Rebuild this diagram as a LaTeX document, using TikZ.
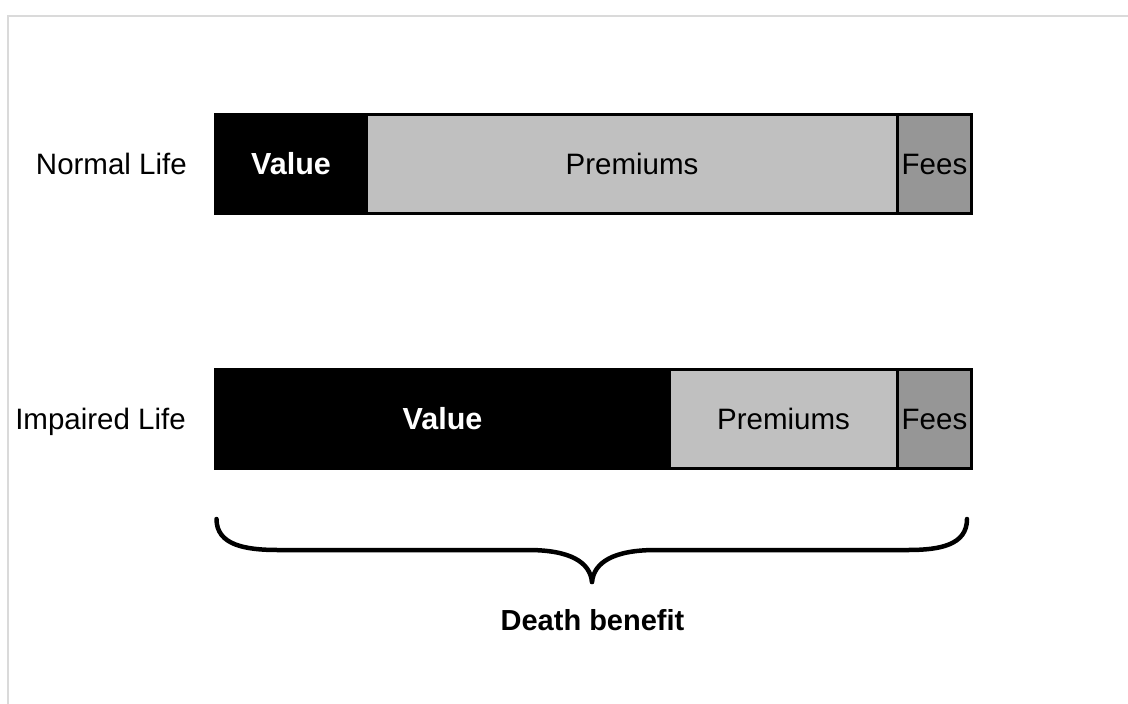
\documentclass[tikz,border=0pt]{standalone}
\usepackage{fontspec}
\setmainfont{Liberation Sans}
\definecolor{premgray}{HTML}{C0C0C0}
\definecolor{feegray}{HTML}{969696}
\definecolor{framegray}{HTML}{DADADA}
\begin{document}
\begin{tikzpicture}[x=1pt,y=-1pt,
  seg/.style={draw=black, line width=3pt, inner sep=0pt, minimum height=99pt,
    text height=21pt, text depth=0pt, font=\fontsize{29.5}{35}\selectfont},
  valueseg/.style={seg, fill=black, text=white, font=\fontsize{30.5}{36}\selectfont\bfseries},
  premseg/.style={seg, fill=premgray},
  feeseg/.style={seg, fill=feegray},
  rowlabel/.style={anchor=base east, inner sep=0pt, font=\fontsize{29.5}{35}\selectfont},
  brace/.style={line width=4.5pt, line cap=round, line join=round}]
\useasboundingbox (0,0) rectangle (1128,704);

% outer frame (top and left edges)
\draw[framegray, line width=2pt] (7.5,704) -- (7.5,15.5) -- (1128,15.5);

% normal life bar
\node[valueseg, minimum width=151pt] (nv) at (291,164) {Value};
\node[premseg, minimum width=531pt] (np) at (632,164) {Premiums};
\node[feeseg, minimum width=74pt] (nf) at (934.5,164) {Fees};
\node[rowlabel] (nl) at (187,174.5) {Normal Life};

% impaired life bar
\node[valueseg, minimum width=454pt] (iv) at (442.5,419) {Value};
\node[premseg, minimum width=228pt] (ip) at (783.5,419) {Premiums};
\node[feeseg, minimum width=74pt] (if) at (934.5,419) {Fees};
\node[rowlabel] (il) at (186,429.5) {Impaired Life};

% brace under the impaired bar
\coordinate (bl) at (216.5,519);
\coordinate (bt) at (592,582);
\coordinate (br) at (967,519);
\draw[brace] (bl) .. controls (216.5,545) and (245,550) .. (278,550)
  -- (528,550) .. controls (570,550) and (590,562) .. (bt);
\draw[brace] (bt) .. controls (594,562) and (614,550) .. (656,550)
  -- (908,550) .. controls (940,550) and (967,545) .. (br);

\node[anchor=base, inner sep=0pt, font=\fontsize{29}{35}\selectfont\bfseries] (db) at (592.5,630) {Death benefit};
\end{tikzpicture}
\end{document}
